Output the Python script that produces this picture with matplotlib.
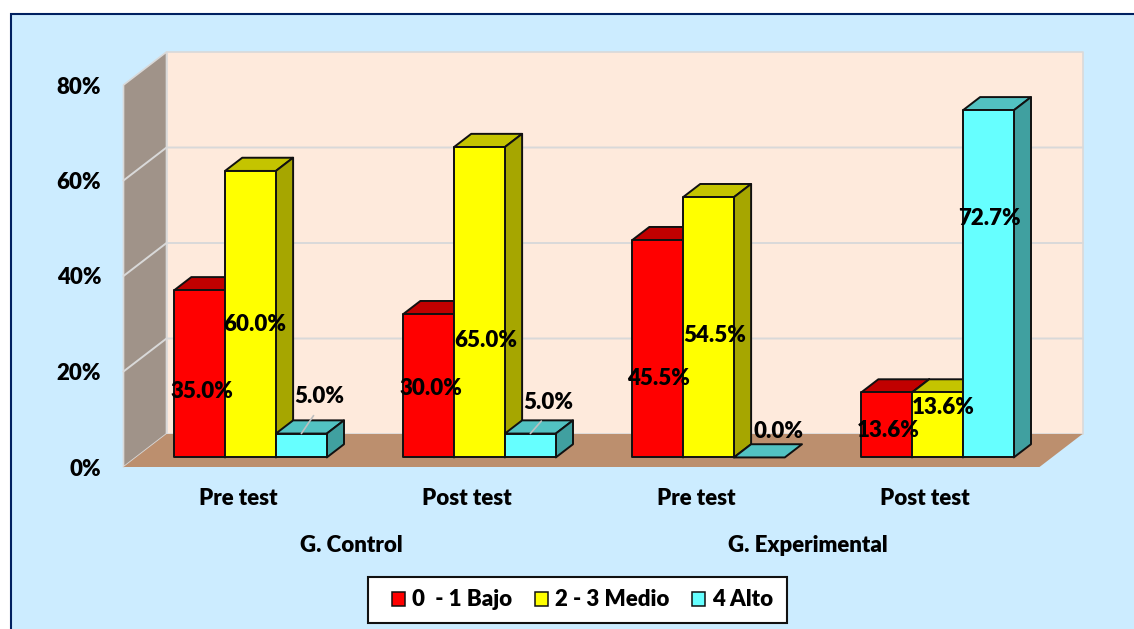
import matplotlib
matplotlib.use("Agg")
import matplotlib.pyplot as plt
from matplotlib.patches import Patch, Polygon, Rectangle

# data
groups = ["G. Control", "G. Experimental"]
tests = ["Pre test", "Post test", "Pre test", "Post test"]
series = ["0  - 1 Bajo", "2 - 3 Medio", "4 Alto"]
bajo = [35.0, 30.0, 45.5, 13.6]
medio = [60.0, 65.0, 54.5, 13.6]
alto = [5.0, 5.0, 0.0, 72.7]
y_ticks = [0, 20, 40, 60, 80]

# label nudges in pixels from the middle of the bar top, one row per test
nudges = [
    [(2.5, -101), (4.5, -154), (18, 37)],
    [(2.5, -74), (6.5, -193), (18, 31)],
    [(0.5, -138), (6.5, -138), (19, 26)],
    [(1.5, -38), (5.5, -15), (1.5, -108)],
]

W, H = 1134, 629
front_col = ["#FF0000", "#FFFF00", "#66FFFF"]
top_col = ["#C00000", "#C4C400", "#52C2C2"]
side_col = ["#990000", "#A6A600", "#40A0A0"]
grid_col = "#D9D9D9"
FONT = "Lato"
FS = 16

plt.rcParams["font.family"] = FONT
plt.rcParams["font.weight"] = "heavy"
plt.rcParams["font.size"] = FS


def fx(px):
    return px / W


def fy(py):
    return 1 - py / H


fig = plt.figure(figsize=(W / 100, H / 100), dpi=100, facecolor="white")
fig.patches.append(Rectangle((fx(11), fy(H + 10)), 1.1, fy(14) - fy(H + 10),
                             transform=fig.transFigure, facecolor="#CCECFF",
                             edgecolor="#002060", linewidth=1.5, zorder=-1))

ax = fig.add_axes([fx(123.5), fy(467), 916 / W, 382 / H])
ax.set_xlim(0, 4)
ax.set_ylim(0, 80)
ax.patch.set_visible(False)
for s in ax.spines.values():
    s.set_visible(False)

# depth of the 3d box in data units
DX = 43 / 229
DY = 33 / 4.775
BAR_W = 1 / 4.5
D0, D1 = 0.29, 0.69


def poly(pts, fc, ec="none", lw=0, z=1):
    ax.add_patch(Polygon(pts, closed=True, facecolor=fc, edgecolor=ec, linewidth=lw,
                         zorder=z, clip_on=False, joinstyle="round"))


# walls and floor
poly([(0, 0), (DX, DY), (DX, 80 + DY), (0, 80)], "#A09389", grid_col, 1.2)
poly([(DX, DY), (4 + DX, DY), (4 + DX, 80 + DY), (DX, 80 + DY)], "#FEEADC", grid_col, 1.2)
poly([(0, 0), (4, 0), (4 + DX, DY), (DX, DY)], "#BC8F6E", "none", 0, 1.5)
for t in y_ticks[1:-1]:
    ax.plot([0, DX, 4 + DX], [t, t + DY, t + DY], color=grid_col, lw=1.4, zorder=1.2, clip_on=False)


def box(x, val, k):
    x0 = x + D0 * DX
    x1 = x0 + BAR_W
    y0 = D0 * DY
    y1 = y0 + val
    ox = (D1 - D0) * DX
    oy = (D1 - D0) * DY
    poly([(x0, y1), (x0 + ox, y1 + oy), (x1 + ox, y1 + oy), (x1, y1)], top_col[k], "#111111", 1.4, 3)
    if val > 0:
        poly([(x1, y0), (x1 + ox, y0 + oy), (x1 + ox, y1 + oy), (x1, y1)], side_col[k], "#111111", 1.4, 3)
        poly([(x0, y0), (x1, y0), (x1, y1), (x0, y1)], front_col[k], "#111111", 1.4, 3)
    return (x0 + x1) / 2, y1


values = [bajo, medio, alto]
for i in range(len(tests)):
    start = i + (1 - 3 * BAR_W) / 2
    for k in range(3):
        v = values[k][i]
        cx, top = box(start + k * BAR_W, v, k)
        arrow = None
        if v == 5.0:
            arrow = dict(arrowstyle="-", color="#BFBFBF", lw=1.2, shrinkA=5, shrinkB=0,
                         relpos=(0.5, 0))
        ax.annotate(f"{v:.1f}%", xy=(cx, top), xytext=nudges[i][k], textcoords="offset pixels",
                    ha="center", va="center", color="black", zorder=5, annotation_clip=False,
                    arrowprops=arrow)

ax.set_yticks(y_ticks)
ax.set_yticklabels([f"{t}%" for t in y_ticks])
ax.set_xticks([i + 0.5 for i in range(4)])
ax.set_xticklabels(tests)
ax.tick_params(axis="both", length=0)
ax.tick_params(axis="y", pad=16)
ax.tick_params(axis="x", pad=15)

ax.text(0.995, -16.4, groups[0], ha="center", va="center")
ax.text(2.99, -16.4, groups[1], ha="center", va="center")

# legend box drawn apart so its size can follow the reference
fig.patches.append(Rectangle((fx(368), fy(623)), 419 / W, 46 / H, transform=fig.transFigure,
                             facecolor="white", edgecolor="#111111", linewidth=1.5, zorder=6))
handles = [Patch(facecolor=c, edgecolor="#111111", linewidth=1.1) for c in front_col]
leg = fig.legend(handles, series, ncol=3, frameon=False, loc="center",
                 bbox_to_anchor=(fx(582.5), fy(600)), handlelength=0.6, handleheight=0.6,
                 handletextpad=0.32, columnspacing=1.0, borderpad=0, fontsize=FS)
leg.set_zorder(7)

fig.savefig("out.png", dpi=100, facecolor=fig.get_facecolor())
